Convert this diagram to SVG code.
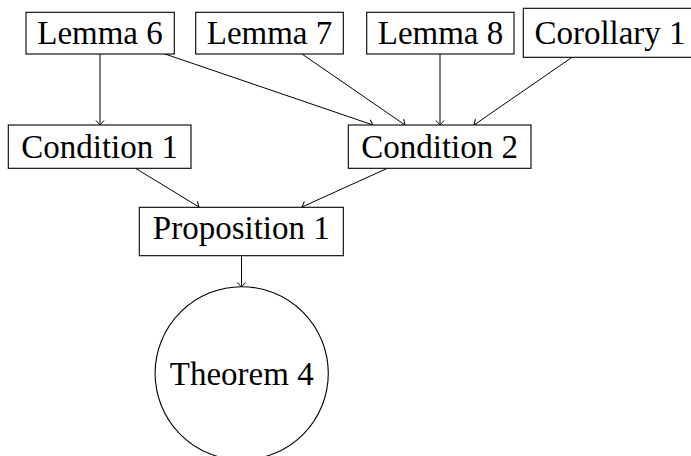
<svg xmlns="http://www.w3.org/2000/svg" width="691" height="456" viewBox="0 0 691 456">
<style>
.box{fill:#fff;stroke:#000;stroke-width:1.1}
.lbl{font-family:"Liberation Serif",serif;font-size:33px;fill:#000;text-anchor:middle}
.edge{fill:none;stroke:#000;stroke-width:1;marker-end:url(#tip)}
</style>
<defs>
<marker id="tip" markerUnits="userSpaceOnUse" viewBox="-6 -6 8 12" refX="0" refY="0" markerWidth="8" markerHeight="12" orient="auto" overflow="visible">
<path d="M-4.5,-4 Q-1.2,-1.2 0,0 Q-1.2,1.2 -4.5,4" fill="none" stroke="#000" stroke-width="1"/>
</marker>
</defs>
<rect width="691" height="456" fill="#fff"/>
<g id="connectors">
<line class="edge" x1="100" y1="54" x2="100" y2="125"/>
<line class="edge" x1="165" y1="54" x2="373" y2="125"/>
<line class="edge" x1="302" y1="54" x2="405" y2="125"/>
<line class="edge" x1="440" y1="54" x2="440" y2="125"/>
<line class="edge" x1="572" y1="57.3" x2="474" y2="125"/>
<line class="edge" x1="135" y1="168" x2="199" y2="207"/>
<line class="edge" x1="388" y1="168" x2="302" y2="207"/>
<line class="edge" x1="241.5" y1="256" x2="241.5" y2="287"/>
</g>
<g id="lemma6"><rect class="box" x="26" y="12.3" width="148.3" height="41.7"/><text class="lbl" x="100" y="44.3">Lemma 6</text></g>
<g id="lemma7"><rect class="box" x="195.7" y="12.3" width="147.6" height="41.7"/><text class="lbl" x="269.5" y="44.3">Lemma 7</text></g>
<g id="lemma8"><rect class="box" x="366.7" y="12.3" width="147.3" height="41.7"/><text class="lbl" x="440.5" y="44.3">Lemma 8</text></g>
<g id="corollary1"><rect class="box" x="523.3" y="8.3" width="172" height="49"/><text class="lbl" x="610" y="44.3">Corollary 1</text></g>
<g id="condition1"><rect class="box" x="8.3" y="125" width="182.7" height="43.3"/><text class="lbl" x="99.6" y="158.3">Condition 1</text></g>
<g id="condition2"><rect class="box" x="348.3" y="125" width="182.7" height="43.3"/><text class="lbl" x="439.6" y="158.3">Condition 2</text></g>
<g id="proposition1"><rect class="box" x="139.3" y="207.3" width="204" height="48.4"/><text class="lbl" x="241.3" y="239.3">Proposition 1</text></g>
<g id="theorem4"><circle class="box" cx="241.7" cy="373.3" r="86.6"/><text class="lbl" x="241.7" y="385">Theorem 4</text></g>
</svg>
